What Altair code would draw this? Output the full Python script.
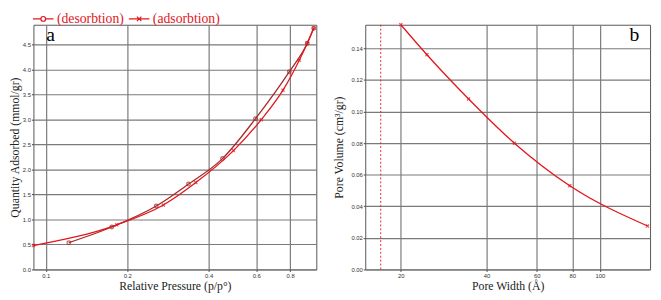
import altair as alt
import pandas as pd

# ---- data: left panel (isotherm) ----
des_p = [0.978, 0.926, 0.795, 0.596, 0.45, 0.337, 0.256, 0.1753, 0.1216]
des_q = [4.83, 4.53, 3.96, 3.02, 2.22, 1.71, 1.27, 0.85, 0.536]
ads_p = [0.09, 0.183, 0.272, 0.3585, 0.494, 0.626, 0.753, 0.865, 0.926, 0.978]
ads_q = [0.477, 0.894, 1.29, 1.74, 2.38, 3.0, 3.59, 4.19, 4.53, 4.83]

# ---- data: right panel (pore volume) ----
pw = [20, 24.7, 34.6, 50.1, 78.4, 147]
pv = [0.155, 0.136, 0.108, 0.080, 0.053, 0.0275]
ref_line = [17]

left_xticks = [0.1, 0.2, 0.4, 0.6, 0.8]
left_yticks = [0.0, 0.5, 1.0, 1.5, 2.0, 2.5, 3.0, 3.5, 4.0, 4.5]
right_xticks = [20, 40, 60, 80, 100]
right_yticks = [0.0, 0.02, 0.04, 0.06, 0.08, 0.10, 0.12, 0.14]
series_names = ["(desorbtion)", "(adsorbtion)"]

DES_C = "#a52a2a"
ADS_C = "#e3161c"
LEG_C = "#e3161c"
SERIF = "Liberation Serif"
SANS = "Liberation Sans"
GRID = "#7a7a7a"

des = pd.DataFrame({"p": des_p, "q": des_q})
ads = pd.DataFrame({"p": ads_p, "q": ads_q})
pore = pd.DataFrame({"w": pw, "v": pv})
legend_df = pd.DataFrame({"s": series_names})

xl = alt.X("p:Q", scale=alt.Scale(type="log", domain=[0.09, 1.0], nice=False),
           axis=alt.Axis(values=left_xticks, format=".1f", title="Relative Pressure (p/p°)"))
yl = alt.Y("q:Q", scale=alt.Scale(domain=[0, 4.9], nice=False),
           axis=alt.Axis(values=left_yticks, format=".1f", title="Quantity Adsorbed (mmol/gr)", titlePadding=1))

des_line = alt.Chart(des).mark_line(color=DES_C, strokeWidth=1.3, interpolate="monotone").encode(x=xl, y=yl)
des_pts = alt.Chart(des).mark_point(shape="circle", filled=False, color=DES_C, size=14, strokeWidth=1.3).encode(x=xl, y=yl)
ads_line = alt.Chart(ads).mark_line(color=ADS_C, strokeWidth=1.3, interpolate="monotone").encode(x=xl, y=yl)
ads_pts = alt.Chart(ads).mark_point(shape="M-1,-1L1,1M-1,1L1,-1", filled=False, color=ADS_C, size=10, strokeWidth=1.3).encode(x=xl, y=yl)

# legend symbols: unit = 6px (symbolSize 144 -> 12px box); paths reach +-1.75 -> 21px long
circ_path = "M-1.75,0H-0.4M0.4,0H1.75M0.4,0A0.4,0.4,0,1,1,-0.4,0A0.4,0.4,0,1,1,0.4,0"
x_path = "M-1.75,0H1.75M-0.38,-0.38L0.38,0.38M-0.38,0.38L0.38,-0.38"

legend_layer = alt.Chart(legend_df).mark_point(filled=False, strokeWidth=1.2, size=144, opacity=0).encode(
    x=alt.value(0), y=alt.value(0),
    color=alt.Color("s:N", scale=alt.Scale(domain=series_names, range=[LEG_C, LEG_C]), legend=alt.Legend(title=None)),
    shape=alt.Shape("s:N", scale=alt.Scale(domain=series_names, range=[circ_path, x_path]), legend=alt.Legend(title=None)),
)

label_a = alt.Chart(pd.DataFrame({"t": ["a"]})).mark_text(font=SERIF, fontSize=20, align="left", baseline="top", color="black").encode(
    x=alt.value(13), y=alt.value(1), text="t:N")

left = alt.layer(des_line, ads_line, des_pts, ads_pts, legend_layer, label_a).properties(width=289, height=250)

xr = alt.X("w:Q", scale=alt.Scale(type="log", domain=[15, 150], nice=False),
           axis=alt.Axis(values=right_xticks, format="d", title="Pore Width (Å)"))
yr = alt.Y("v:Q", scale=alt.Scale(domain=[0, 0.155], nice=False),
           axis=alt.Axis(values=right_yticks, format=".2f", title="Pore Volume (cm³/gr)", titlePadding=6))

ref = alt.Chart(pd.DataFrame({"w": ref_line})).mark_rule(color="#e8282c", strokeDash=[2, 2], strokeWidth=1).encode(x=xr)
pore_line = alt.Chart(pore).mark_line(color=ADS_C, strokeWidth=1.3, interpolate="monotone").encode(x=xr, y=yr)
pore_pts = alt.Chart(pore).mark_point(shape="M-1,-1L1,1M-1,1L1,-1", filled=False, color=ADS_C, size=10, strokeWidth=1.3).encode(x=xr, y=yr)
label_b = alt.Chart(pd.DataFrame({"t": ["b"]})).mark_text(font=SERIF, fontSize=20, align="right", baseline="top", color="black").encode(
    x=alt.value(280), y=alt.value(1), text="t:N")

right = alt.layer(ref, pore_line, pore_pts, label_b).properties(width=291, height=250)

chart = alt.hconcat(left, right, spacing=12).resolve_scale(
    x="independent", y="independent", color="independent", shape="independent"
).properties(
    padding={"left": 0, "top": 0, "right": 0, "bottom": 0}
).configure_view(stroke="#555555", strokeWidth=1).configure_axis(
    grid=True, gridColor=GRID, gridWidth=1.2, gridOpacity=1,
    domain=False, tickColor="#444444", tickSize=2, labelFont=SANS, labelFontSize=6,
    labelColor="#333333", labelPadding=1, titleFont=SERIF, titleFontSize=12,
    titleFontWeight="normal", titleColor="#222222",
).configure_axisX(titlePadding=2).configure_legend(
    orient="none", legendX=3, legendY=-13, direction="horizontal",
    labelFont=SERIF, labelFontSize=14, labelColor=LEG_C, symbolOpacity=1,
    symbolStrokeWidth=1.2, symbolSize=144, labelOffset=7, columnPadding=2, padding=0,
    symbolStrokeColor=LEG_C,
)

chart.save("out.html", embed_options={"renderer": "svg", "actions": False})
